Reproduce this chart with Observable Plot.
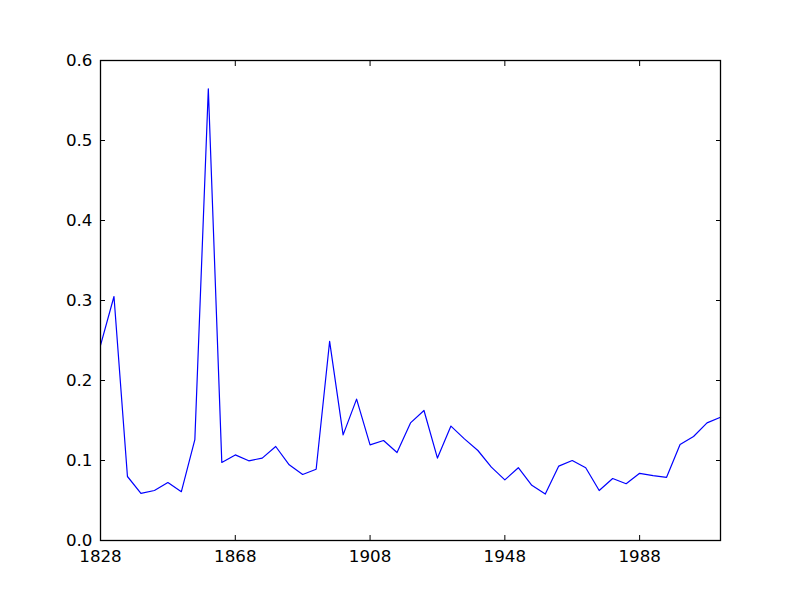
<!DOCTYPE html>
<html>
<head>
<meta charset="utf-8">
<script src="https://cdn.jsdelivr.net/npm/d3@7"></script>
<script src="https://cdn.jsdelivr.net/npm/@observablehq/plot@0.6"></script>
<style>
  body { margin: 0; background: #fff; }
  #chart { width: 800px; height: 600px; }
</style>
</head>
<body>
<div id="chart"></div>
<script>
const years = d3.range(1828, 2013, 4);
const values = [
  0.244, 0.305, 0.080, 0.059, 0.0625, 0.0725, 0.061, 0.126, 0.5646, 0.0975,
  0.107, 0.0996, 0.103, 0.1175, 0.0946, 0.0825, 0.089, 0.249, 0.132, 0.1767,
  0.1196, 0.125, 0.110, 0.147, 0.1625, 0.103, 0.143, 0.127, 0.1125, 0.0917,
  0.0758, 0.091, 0.069, 0.058, 0.093, 0.100, 0.091, 0.0625, 0.0775, 0.071,
  0.084, 0.081, 0.079, 0.120, 0.130, 0.147, 0.154
];
const xTicks = [1828, 1868, 1908, 1948, 1988];
const yTicks = [0, 0.1, 0.2, 0.3, 0.4, 0.5, 0.6];

const data = years.map((y, i) => ({year: y, value: values[i]}));

const chart = Plot.plot({
  width: 800,
  height: 600,
  marginLeft: 100,
  marginRight: 80,
  marginTop: 60,
  marginBottom: 60,
  style: {fontFamily: "DejaVu Sans", fontSize: "16.7px", color: "#000", background: "#fff"},
  x: {domain: [1828, 2012]},
  y: {domain: [0, 0.6]},
  marks: [
    Plot.line(data, {x: "year", y: "value", stroke: "#0000ff", strokeWidth: 1.2}),
    Plot.axisX({anchor: "bottom", ticks: xTicks, tickFormat: d => String(d), tickSize: -5, tickPadding: 15, label: null}),
    Plot.axisX({anchor: "top", ticks: xTicks, tickFormat: () => "", tickSize: -5, label: null}),
    Plot.axisY({anchor: "left", ticks: yTicks, tickFormat: d => d.toFixed(1), tickSize: -5, tickPadding: 13, label: null}),
    Plot.axisY({anchor: "right", ticks: yTicks, tickFormat: () => "", tickSize: -5, label: null}),
    Plot.frame({stroke: "#000", strokeWidth: 1.3})
  ]
});
document.getElementById("chart").appendChild(chart);
</script>
</body>
</html>
